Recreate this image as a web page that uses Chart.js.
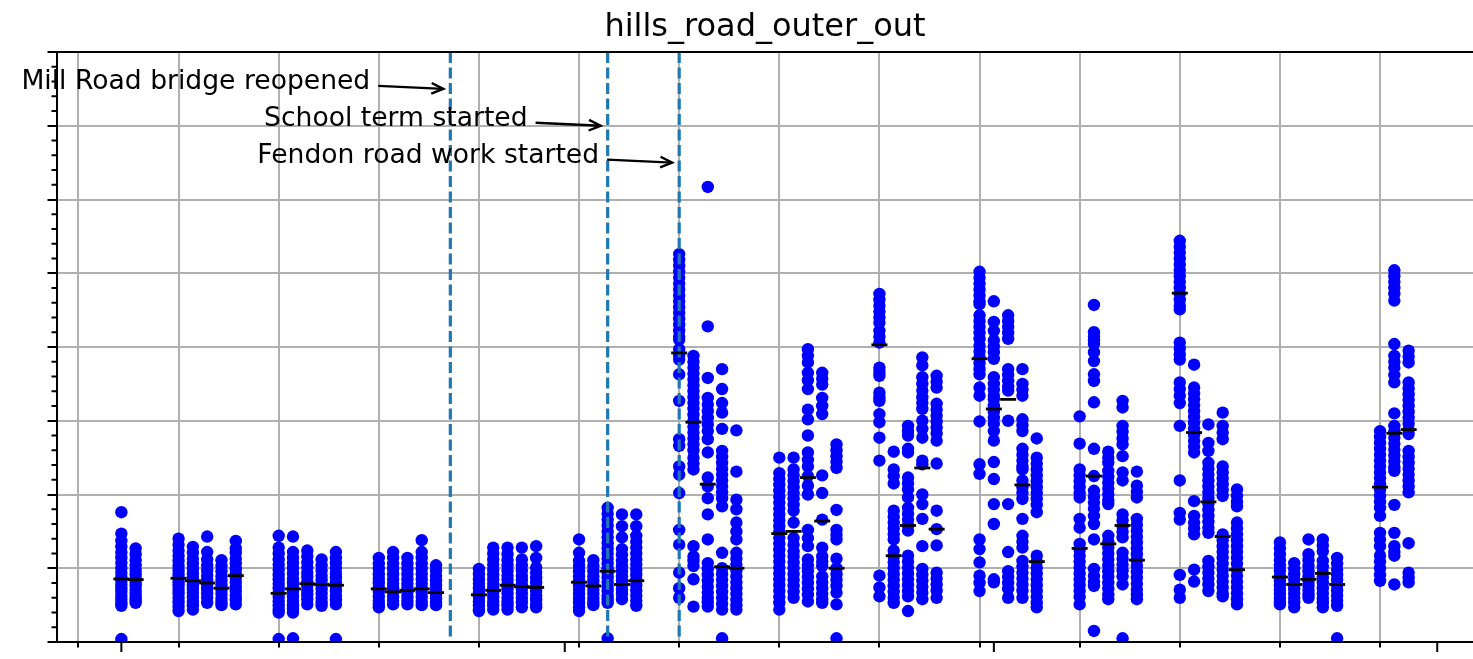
<!DOCTYPE html>
<html>
<head>
<meta charset="utf-8">
<title>hills_road_outer_out</title>
<script src="https://cdn.jsdelivr.net/npm/chart.js@4.4.1/dist/chart.umd.min.js"></script>
<style>
    html, body { margin: 0; padding: 0; background: #fff; }
    canvas { display: block; }
</style>
</head>
<body>
<canvas id="chart" width="1473" height="659"></canvas>
<script>
"use strict";

// journey times per weekday (one list per day), grouped by week
var week0729 = [
    [1.76, 1.47, 1.37, 1.29, 1.21, 1.14, 1.07, 1.0, 0.94, 0.88, 0.83, 0.78, 0.73, 0.68, 0.63, 0.58, 0.53, 0.49, 0.04],
    [1.27, 1.19, 1.11, 1.04, 0.97, 0.91, 0.86, 0.81, 0.76, 0.71, 0.66, 0.61, 0.57, 0.53]
];
var week0805 = [
    [1.40, 1.32, 1.24, 1.17, 1.10, 1.03, 0.97, 0.91, 0.86, 0.81, 0.76, 0.71, 0.66, 0.6, 0.54, 0.48, 0.42],
    [1.29, 1.21, 1.13, 1.06, 0.99, 0.93, 0.87, 0.82, 0.77, 0.72, 0.67, 0.61, 0.55, 0.5, 0.44],
    [1.43, 1.22, 1.12, 1.04, 0.97, 0.9, 0.84, 0.78, 0.72, 0.66, 0.6, 0.53],
    [1.11, 1.03, 0.96, 0.89, 0.83, 0.77, 0.71, 0.65, 0.59, 0.54, 0.5],
    [1.37, 1.27, 1.21, 1.13, 1.06, 0.99, 0.93, 0.87, 0.81, 0.75, 0.69, 0.63, 0.57, 0.51]
];
var week0812 = [
    [1.44, 1.28, 1.2, 1.12, 1.05, 0.98, 0.91, 0.85, 0.79, 0.73, 0.67, 0.61, 0.55, 0.49, 0.44, 0.4, 0.04],
    [1.43, 1.22, 1.14, 1.07, 1.0, 0.93, 0.86, 0.8, 0.74, 0.68, 0.62, 0.56, 0.5, 0.45, 0.4, 0.05],
    [1.24, 1.16, 1.08, 1.01, 0.94, 0.88, 0.82, 0.76, 0.7, 0.64, 0.58, 0.51],
    [1.12, 1.04, 0.97, 0.9, 0.84, 0.78, 0.72, 0.66, 0.6, 0.54, 0.49],
    [1.22, 1.14, 1.07, 1.0, 0.93, 0.87, 0.81, 0.75, 0.69, 0.63, 0.57, 0.51, 0.04]
];
var week0819 = [
    [1.14, 1.06, 0.99, 0.92, 0.86, 0.8, 0.74, 0.68, 0.62, 0.56, 0.51, 0.47],
    [1.22, 1.14, 1.06, 0.99, 0.92, 0.85, 0.79, 0.73, 0.67, 0.61, 0.56, 0.51],
    [1.14, 1.06, 0.99, 0.92, 0.85, 0.79, 0.73, 0.67, 0.61, 0.56, 0.51],
    [1.38, 1.22, 1.14, 1.06, 0.99, 0.92, 0.85, 0.79, 0.73, 0.67, 0.61, 0.55, 0.5],
    [1.04, 0.97, 0.9, 0.83, 0.77, 0.71, 0.65, 0.59, 0.54, 0.5]
];
var week0826 = [
    [0.99, 0.92, 0.85, 0.79, 0.73, 0.67, 0.61, 0.55, 0.49, 0.44, 0.42],
    [1.28, 1.2, 1.12, 1.05, 0.98, 0.91, 0.85, 0.79, 0.73, 0.67, 0.61, 0.55, 0.5, 0.44],
    [1.28, 1.19, 1.11, 1.04, 0.97, 0.9, 0.84, 0.78, 0.72, 0.66, 0.6, 0.54, 0.49, 0.44],
    [1.28, 1.12, 1.04, 0.97, 0.9, 0.84, 0.78, 0.72, 0.66, 0.6, 0.54, 0.47],
    [1.3, 1.14, 1.01, 0.94, 0.87, 0.81, 0.75, 0.69, 0.63, 0.57, 0.51, 0.47]
];
var week0902 = [
    [1.39, 1.21, 1.1, 1.03, 0.96, 0.89, 0.83, 0.77, 0.71, 0.65, 0.59, 0.53, 0.47, 0.42],
    [1.11, 1.03, 0.96, 0.89, 0.83, 0.77, 0.71, 0.65, 0.59, 0.54, 0.5],
    [1.82, 1.74, 1.66, 1.58, 1.5, 1.42, 1.34, 1.27, 1.2, 1.13, 1.06, 0.99, 0.93, 0.87, 0.81, 0.75, 0.69, 0.63, 0.58, 0.53, 0.05],
    [1.73, 1.57, 1.42, 1.26, 1.18, 1.1, 1.03, 0.96, 0.89, 0.83, 0.77, 0.71, 0.65, 0.58],
    [1.73, 1.57, 1.44, 1.36, 1.28, 1.2, 1.12, 1.05, 0.98, 0.91, 0.84, 0.77, 0.7, 0.63, 0.56, 0.49]
];
var week0909 = [
    [5.26, 5.18, 5.1, 5.02, 4.94, 4.86, 4.78, 4.7, 4.62, 4.54, 4.46, 4.38, 4.3, 4.22, 4.14, 4.1, 3.97, 3.88, 3.83, 3.63,
     3.27, 2.75, 2.66, 2.38, 2.27, 2.02, 1.52, 1.32, 0.94, 0.73, 0.6],
    [3.88, 3.8, 3.72, 3.64, 3.56, 3.48, 3.4, 3.32, 3.24, 3.16, 3.08, 3.0, 2.92, 2.84, 2.76, 2.68, 2.6, 2.5, 2.42, 2.34,
     1.3, 1.16, 1.1, 1.03, 0.85, 0.48],
    [6.17, 4.28, 3.58, 3.31, 3.22, 3.13, 3.04, 2.95, 2.86, 2.75, 2.57, 2.23, 2.11, 1.95, 1.73, 1.39, 1.07, 0.99, 0.91,
     0.83, 0.75, 0.67, 0.6, 0.54, 0.48],
    [3.7, 3.43, 3.24, 3.11, 2.89, 2.59, 2.51, 2.43, 2.35, 2.27, 2.19, 2.11, 2.03, 1.95, 1.84, 1.21, 1.0, 0.92, 0.84,
     0.76, 0.68, 0.6, 0.52, 0.44, 0.05],
    [2.87, 2.31, 1.93, 1.8, 1.62, 1.5, 1.39, 1.21, 1.13, 1.05, 0.97, 0.89, 0.81, 0.73, 0.65, 0.57, 0.5, 0.44]
];
var week0916 = [
    [2.5, 2.29, 2.21, 2.13, 2.05, 1.97, 1.89, 1.81, 1.73, 1.65, 1.57, 1.49, 1.41, 1.33, 1.25, 1.17, 1.09, 1.01, 0.93,
     0.85, 0.77, 0.69, 0.61, 0.53, 0.44],
    [2.5, 2.34, 2.26, 2.18, 2.1, 2.02, 1.94, 1.86, 1.78, 1.62, 1.41, 1.32, 1.23, 1.16, 1.08, 1.0, 0.92, 0.84, 0.76, 0.68, 0.6],
    [3.97, 3.88, 3.79, 3.65, 3.55, 3.43, 3.15, 3.02, 2.8, 2.57, 2.47, 2.38, 2.25, 2.12, 2.0, 1.52, 1.41, 1.3, 1.12,
     1.04, 0.96, 0.88, 0.8, 0.72, 0.64, 0.55],
    [3.65, 3.57, 3.49, 3.31, 3.2, 3.09, 2.26, 2.02, 1.66, 1.28, 1.16, 1.09, 1.03, 0.89, 0.81, 0.73, 0.65, 0.58, 0.53],
    [2.68, 2.6, 2.52, 2.44, 2.36, 1.79, 1.52, 1.45, 1.39, 1.13, 1.0, 0.92, 0.84, 0.76, 0.67, 0.51, 0.05]
];
var week0923 = [
    [4.72, 4.64, 4.56, 4.48, 4.4, 4.33, 4.22, 4.14, 4.06, 3.72, 3.66, 3.61, 3.38, 3.32, 3.27, 3.09, 2.98, 2.77, 2.46,
     0.9, 0.74, 0.62],
    [2.58, 2.34, 2.25, 2.15, 1.78, 1.7, 1.62, 1.54, 1.46, 1.39, 1.24, 1.16, 1.08, 1.0, 0.92, 0.84, 0.76, 0.68, 0.6, 0.53],
    [2.93, 2.86, 2.8, 2.62, 2.57, 2.23, 2.15, 2.07, 1.96, 1.82, 1.74, 1.66, 1.58, 1.51, 1.17, 1.09, 1.01, 0.93, 0.85,
     0.77, 0.69, 0.62, 0.42],
    [3.86, 3.75, 3.59, 3.5, 3.41, 3.32, 3.24, 3.16, 3.0, 2.89, 2.77, 2.46, 2.41, 2.0, 1.87, 1.67, 1.3, 0.99, 0.91,
     0.83, 0.75, 0.67, 0.58],
    [3.61, 3.53, 3.45, 3.23, 3.15, 3.07, 2.99, 2.91, 2.83, 2.73, 2.42, 1.78, 1.53, 1.31, 0.94, 0.86, 0.78, 0.7, 0.6]
];
var week0930 = [
    [5.02, 4.94, 4.86, 4.78, 4.7, 4.62, 4.58, 4.43, 4.35, 4.27, 4.19, 4.11, 4.02, 3.94, 3.86, 3.78, 3.7, 3.63, 3.45,
     3.34, 2.99, 2.41, 2.28, 1.39, 1.26, 1.08, 0.9, 0.8, 0.69],
    [4.62, 4.34, 4.22, 4.09, 4.01, 3.93, 3.84, 3.59, 3.5, 3.42, 3.34, 3.29, 3.2, 3.12, 3.04, 2.96, 2.86, 2.73, 2.44,
     2.21, 1.87, 1.6, 0.85, 0.81],
    [4.43, 4.35, 4.27, 4.19, 4.11, 3.7, 3.62, 3.54, 3.46, 3.41, 3.0, 1.87, 1.22, 0.96, 0.88, 0.8, 0.72, 0.6],
    [3.7, 3.5, 3.42, 3.34, 3.02, 2.94, 2.86, 2.62, 2.54, 2.46, 2.38, 2.34, 2.19, 2.1, 2.02, 1.94, 1.67, 1.44, 1.36,
     1.28, 1.1, 1.02, 0.94, 0.86, 0.78, 0.7, 0.6],
    [2.76, 2.5, 2.42, 2.34, 2.26, 2.18, 2.1, 2.02, 1.94, 1.86, 1.76, 1.17, 1.09, 1.01, 0.93, 0.85, 0.77, 0.69, 0.61,
     0.53, 0.47]
];
var week1007 = [
    [3.06, 2.69, 2.34, 2.26, 2.18, 2.1, 2.02, 1.96, 1.67, 1.55, 1.33, 1.25, 1.17, 1.09, 1.01, 0.93, 0.85, 0.77, 0.69,
     0.61, 0.51],
    [4.57, 4.2, 4.14, 4.09, 4.04, 3.93, 3.81, 3.63, 3.54, 3.25, 2.62, 2.25, 2.05, 1.97, 1.89, 1.81, 1.71, 1.6, 1.39,
     0.99, 0.9, 0.82, 0.76, 0.15],
    [2.58, 2.5, 2.43, 2.32, 2.24, 2.16, 2.08, 2.0, 1.92, 1.87, 1.44, 1.36, 1.28, 1.2, 1.12, 1.04, 0.96, 0.88, 0.8,
     0.72, 0.64, 0.58],
    [3.27, 3.18, 2.93, 2.85, 2.76, 2.68, 2.52, 2.3, 2.19, 1.73, 1.65, 1.57, 1.49, 1.42, 1.21, 1.13, 1.05, 0.97, 0.89,
     0.78, 0.05],
    [2.31, 2.12, 2.04, 1.96, 1.67, 1.59, 1.51, 1.43, 1.35, 1.27, 1.19, 1.11, 1.03, 0.95, 0.87, 0.79, 0.71, 0.64, 0.58]
];
var week1014 = [
    [5.44, 5.36, 5.28, 5.2, 5.12, 5.04, 4.96, 4.88, 4.8, 4.72, 4.64, 4.56, 4.51, 4.06, 3.98, 3.9, 3.83, 3.52, 3.43,
     3.34, 3.24, 2.93, 2.19, 1.75, 1.66, 0.91, 0.71, 0.6],
    [3.76, 3.45, 3.37, 3.29, 3.21, 3.13, 3.05, 2.97, 2.89, 2.81, 2.73, 2.65, 2.57, 1.91, 1.71, 1.62, 1.54, 1.46, 0.98, 0.82],
    [2.95, 2.7, 2.59, 2.43, 2.35, 2.27, 2.19, 2.11, 2.03, 1.95, 1.87, 1.79, 1.71, 1.63, 1.55, 1.48, 1.1, 1.02, 0.94,
     0.86, 0.78, 0.69],
    [3.11, 2.93, 2.84, 2.75, 2.38, 2.3, 2.22, 2.14, 2.06, 1.98, 1.46, 1.38, 1.3, 1.22, 1.14, 1.06, 0.98, 0.9, 0.82,
     0.74, 0.66, 0.62],
    [2.07, 1.98, 1.9, 1.84, 1.62, 1.54, 1.46, 1.38, 1.3, 1.22, 1.14, 1.06, 0.98, 0.9, 0.82, 0.74, 0.66, 0.58, 0.51]
];
var week1021 = [
    [1.35, 1.27, 1.19, 1.11, 1.04, 0.97, 0.9, 0.83, 0.77, 0.71, 0.65, 0.59, 0.54, 0.51],
    [1.07, 0.99, 0.92, 0.85, 0.78, 0.72, 0.66, 0.6, 0.54, 0.47],
    [1.39, 1.19, 1.11, 1.03, 0.96, 0.89, 0.82, 0.76, 0.7, 0.64, 0.6],
    [1.39, 1.31, 1.23, 1.1, 1.02, 0.94, 0.87, 0.8, 0.73, 0.66, 0.59, 0.53, 0.47],
    [1.14, 1.06, 0.98, 0.91, 0.84, 0.77, 0.7, 0.63, 0.56, 0.49, 0.05]
];
var week1028 = [
    [2.86, 2.78, 2.7, 2.62, 2.54, 2.46, 2.38, 2.3, 2.22, 2.14, 2.06, 1.98, 1.9, 1.82, 1.71, 1.48, 1.39, 1.3, 1.17,
     1.09, 1.0, 0.91, 0.83],
    [5.04, 4.96, 4.88, 4.8, 4.72, 4.63, 4.04, 3.88, 3.8, 3.72, 3.62, 3.52, 3.1, 2.93, 2.85, 2.77, 2.69, 2.61, 2.53,
     2.45, 2.37, 2.32, 1.86, 1.48, 1.3, 1.22, 1.17, 0.78],
    [3.95, 3.87, 3.79, 3.52, 3.44, 3.36, 3.28, 3.2, 3.12, 3.04, 2.96, 2.88, 2.82, 2.59, 2.51, 2.43, 2.35, 2.27, 2.19,
     2.11, 2.03, 1.34, 0.94, 0.87, 0.81]
];

var dates = [
    '2019-08-01', '2019-08-02',
    '2019-08-05', '2019-08-06', '2019-08-07', '2019-08-08', '2019-08-09',
    '2019-08-12', '2019-08-13', '2019-08-14', '2019-08-15', '2019-08-16',
    '2019-08-19', '2019-08-20', '2019-08-21', '2019-08-22', '2019-08-23',
    '2019-08-26', '2019-08-27', '2019-08-28', '2019-08-29', '2019-08-30',
    '2019-09-02', '2019-09-03', '2019-09-04', '2019-09-05', '2019-09-06',
    '2019-09-09', '2019-09-10', '2019-09-11', '2019-09-12', '2019-09-13',
    '2019-09-16', '2019-09-17', '2019-09-18', '2019-09-19', '2019-09-20',
    '2019-09-23', '2019-09-24', '2019-09-25', '2019-09-26', '2019-09-27',
    '2019-09-30', '2019-10-01', '2019-10-02', '2019-10-03', '2019-10-04',
    '2019-10-07', '2019-10-08', '2019-10-09', '2019-10-10', '2019-10-11',
    '2019-10-14', '2019-10-15', '2019-10-16', '2019-10-17', '2019-10-18',
    '2019-10-21', '2019-10-22', '2019-10-23', '2019-10-24', '2019-10-25',
    '2019-10-28', '2019-10-29', '2019-10-30'
];

// daily medians as marked on the plot
var medians = [
    0.855, 0.846,
    0.864, 0.83, 0.80, 0.73, 0.90,
    0.66, 0.72, 0.79, 0.78, 0.77,
    0.72, 0.68, 0.70, 0.72, 0.67,
    0.64, 0.70, 0.77, 0.75, 0.74,
    0.81, 0.76, 0.96, 0.78, 0.83,
    3.92, 2.98, 2.14, 1.02, 1.00,
    1.47, 1.50, 2.23, 1.64, 1.00,
    4.03, 1.17, 1.58, 2.36, 1.53,
    3.84, 3.16, 3.29, 2.13, 1.09,
    1.27, 2.25, 1.33, 1.58, 1.11,
    4.73, 2.84, 1.90, 1.43, 0.98,
    0.88, 0.78, 0.85, 0.93, 0.78,
    2.10, 2.83, 2.88
];

var monthStarts = ['2019-08-01', '2019-09-01', '2019-10-01', '2019-11-01'];
var firstMonday = '2019-07-29';

var eventDates = ['2019-08-24', '2019-09-04', '2019-09-09'];
var eventLabels = ['Mill Road bridge reopened', 'School term started', 'Fendon road work started'];
var eventLabelY = [7.5, 7.0, 6.5];

var journeyTimes = [].concat(week0729, week0805, week0812, week0819, week0826, week0902, week0909,
    week0916, week0923, week0930, week1007, week1014, week1021, week1028);

var FONT = '"DejaVu Sans", "Liberation Sans", sans-serif';
var EPOCH = Date.UTC(2019, 7, 1);

function dayOffset(s) {
    var p = s.split('-');
    return (Date.UTC(+p[0], +p[1] - 1, +p[2]) - EPOCH) / 864e5;
}

var dots = [];
var medianPoints = [];
for (var i = 0; i < dates.length; ++i) {
    var d = dayOffset(dates[i]);
    for (var j = 0; j < journeyTimes[i].length; ++j) {
        dots.push({x: d, y: journeyTimes[i][j]});
    }
    medianPoints.push({x: d, y: medians[i]});
}

// matplotlib style 5% margins on the date axis
var dayMin = dayOffset(dates[0]);
var dayMax = dayOffset(dates[dates.length - 1]);
var margin = (dayMax - dayMin) * 0.05;
var xMin = dayMin - margin;
var xMax = dayMax + margin;

var mondays = [];
for (var m = dayOffset(firstMonday); m <= xMax; m += 7) {
    mondays.push(m);
}

function line(ctx, x1, y1, x2, y2) {
    ctx.beginPath();
    ctx.moveTo(x1, y1);
    ctx.lineTo(x2, y2);
    ctx.stroke();
}

var overlay = {
    id: 'overlay',
    afterDatasetDraw: function(chart, args) {
        // event lines go over the dots but under the median marks
        if (args.index !== 1) {
            return;
        }
        var ctx = chart.ctx, area = chart.chartArea, x = chart.scales.x;
        ctx.save();
        ctx.strokeStyle = '#1f77b4';
        ctx.lineWidth = 3.2;
        ctx.setLineDash([11, 4.5]);
        eventDates.forEach(function(s) {
            var px = x.getPixelForValue(dayOffset(s));
            line(ctx, px, area.top, px, area.bottom);
        });
        ctx.restore();
    },
    afterDraw: function(chart) {
        var ctx = chart.ctx, area = chart.chartArea;
        var x = chart.scales.x, y = chart.scales.y;
        ctx.save();
        ctx.strokeStyle = '#000';
        ctx.lineWidth = 2;
        // top spine
        line(ctx, area.left, area.top, area.right, area.top);
        // minor y ticks
        for (var v = 0; v <= 8.001; v += 0.2) {
            if (Math.abs(v - Math.round(v)) < 1e-6) {
                continue;
            }
            var py = y.getPixelForValue(v);
            line(ctx, area.left - 5.5, py, area.left, py);
        }
        // month ticks
        monthStarts.forEach(function(s) {
            var d = dayOffset(s);
            if (d < xMin || d > xMax) {
                return;
            }
            var px = x.getPixelForValue(d);
            line(ctx, px, area.bottom, px, area.bottom + 10);
        });
        // annotations
        ctx.font = '26.6px ' + FONT;
        ctx.fillStyle = '#000';
        ctx.textAlign = 'right';
        ctx.textBaseline = 'alphabetic';
        ctx.lineWidth = 2.4;
        for (var k = 0; k < eventDates.length; ++k) {
            var d0 = dayOffset(eventDates[k]);
            var tx = x.getPixelForValue(d0 - 5.6);
            var ty = y.getPixelForValue(eventLabelY[k]);
            ctx.fillText(eventLabels[k], tx, ty);
            var x1 = tx + 8, y1 = ty - 3;
            var x2 = x.getPixelForValue(d0) - 7, y2 = ty;
            line(ctx, x1, y1, x2, y2);
            var ang = Math.atan2(y2 - y1, x2 - x1);
            var hl = 13, hw = 0.42;
            ctx.beginPath();
            ctx.moveTo(x2 - hl * Math.cos(ang - hw), y2 - hl * Math.sin(ang - hw));
            ctx.lineTo(x2, y2);
            ctx.lineTo(x2 - hl * Math.cos(ang + hw), y2 - hl * Math.sin(ang + hw));
            ctx.stroke();
        }
        ctx.restore();
    }
};

new Chart(document.getElementById('chart'), {
    type: 'scatter',
    data: {
        datasets: [{
            label: 'median',
            data: medianPoints,
            pointStyle: 'line',
            pointRadius: 8,
            borderColor: '#000',
            backgroundColor: '#000',
            pointBorderWidth: 2.8,
            order: 0
        }, {
            label: 'journey time',
            data: dots,
            pointRadius: 6.2,
            pointBorderWidth: 0,
            backgroundColor: '#0000ff',
            borderColor: '#0000ff',
            order: 1
        }]
    },
    options: {
        responsive: false,
        devicePixelRatio: 1,
        animation: false,
        events: [],
        layout: {padding: 0, autoPadding: false},
        plugins: {
            legend: {display: false},
            tooltip: {enabled: false},
            title: {
                display: true,
                fullSize: false,
                text: 'hills_road_outer_out',
                color: '#000',
                font: {family: FONT, size: 32, weight: 'normal'},
                padding: {top: 8, bottom: 5.6}
            }
        },
        scales: {
            x: {
                type: 'linear',
                min: xMin,
                max: xMax,
                afterBuildTicks: function(scale) {
                    scale.ticks = mondays.map(function(v) { return {value: v}; });
                },
                afterFit: function(scale) {
                    scale.height = 17;
                    scale.paddingLeft = 0;
                    scale.paddingRight = 0;
                },
                ticks: {display: false},
                grid: {
                    color: '#b0b0b0',
                    lineWidth: 2,
                    tickColor: '#000',
                    tickWidth: 2,
                    tickLength: 5.5
                },
                border: {display: true, color: '#000', width: 2, z: 1}
            },
            y: {
                type: 'linear',
                min: 0,
                max: 8,
                ticks: {display: false, stepSize: 1},
                afterFit: function(scale) {
                    scale.width = 57;
                    scale.paddingTop = 0;
                    scale.paddingBottom = 0;
                },
                grid: {
                    color: '#b0b0b0',
                    lineWidth: 2,
                    tickColor: '#000',
                    tickWidth: 2,
                    tickLength: 9.5
                },
                border: {display: true, color: '#000', width: 2, z: 1}
            }
        }
    },
    plugins: [overlay]
});
</script>
</body>
</html>
